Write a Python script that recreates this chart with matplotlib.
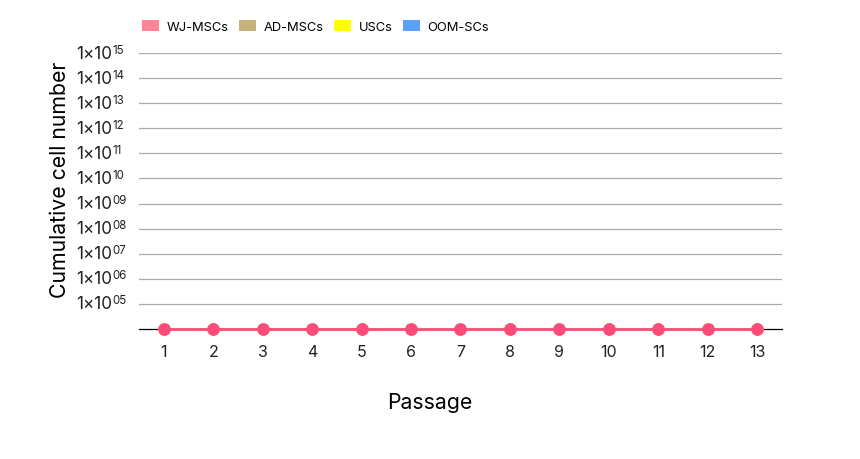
import matplotlib
matplotlib.use("Agg")
import matplotlib.pyplot as plt
import matplotlib.transforms as mtransforms
from matplotlib.patches import Patch

plt.rcParams['font.family'] = ['Inter', 'DejaVu Sans']

passages = [1, 2, 3, 4, 5, 6, 7, 8, 9, 10, 11, 12, 13]
series_names = ["WJ-MSCs", "AD-MSCs", "USCs", "OOM-SCs"]
legend_colors = ["#ff8496", "#c7b27e", "#ffff00", "#5ca0ff"]
line_colors = ["#ff4a7e", "#c7b27e", "#ffff00", "#5ca0ff"]
# all series sit on the baseline in the reference
wj_mscs = [0] * 13
ad_mscs = [0] * 13
uscs = [0] * 13
oom_scs = [0] * 13
tick_exponents = ["05", "06", "07", "08", "09", "10", "11", "12", "13", "14", "15"]

fig = plt.figure(figsize=(8.6, 4.6), dpi=100)
ax = fig.add_axes([0.1616, 0.2826, 0.7477, 0.6])

x = list(range(len(passages)))
all_series = [wj_mscs, ad_mscs, uscs, oom_scs]
# draw in reverse so WJ-MSCs ends up on top
for vals, col in reversed(list(zip(all_series, line_colors))):
    ax.plot(x, vals, color=col, lw=1.9, marker='o', ms=8, clip_on=False, zorder=3)

ax.set_xlim(-0.5, len(passages) - 0.5)
ax.set_ylim(0, len(tick_exponents))
ax.set_xticks(x)
ax.set_xticklabels([str(p) for p in passages], fontsize=11.5, color="#222222")
ax.set_yticks(range(1, len(tick_exponents) + 1))
ax.set_yticklabels([])
ax.tick_params(length=0)
ax.tick_params(axis='x', pad=11)
ax.grid(axis='y', color="#aaaaaa", lw=0.9)
ax.set_axisbelow(True)
for s in ["top", "right", "left"]:
    ax.spines[s].set_visible(False)
ax.spines["bottom"].set_color("black")
ax.spines["bottom"].set_linewidth(0.9)

# y tick labels as 1×10 + small raised exponent
trans = mtransforms.blended_transform_factory(fig.transFigure, ax.transData)
for i, e in enumerate(tick_exponents):
    yv = i + 1
    ax.text(112 / 860, yv, "1×10", transform=trans, fontsize=12.3, color="#222222",
            ha='right', va='center')
    ax.text(112 / 860, yv, e, fontsize=8.3, color="#222222", ha='left', va='center',
            transform=trans + mtransforms.ScaledTranslation(0, 3.5 / 100, fig.dpi_scale_trans))

fig.text(430 / 860, 1 - 403 / 460, "Passage", fontsize=15.3, ha='center', va='center')
fig.text(60 / 860, 1 - 180 / 460, "Cumulative cell number", fontsize=15.3,
         rotation=90, ha='center', va='center')

handles = [Patch(facecolor=c, edgecolor='none', label=n)
           for n, c in zip(series_names, legend_colors)]
fig.legend(handles=handles, loc='upper left', bbox_to_anchor=(0.152, 0.98),
           ncol=4, frameon=False, fontsize=9.3, handlelength=1.3, handleheight=0.9,
           handletextpad=0.6, columnspacing=0.8)

fig.savefig("out.png", dpi=100)
